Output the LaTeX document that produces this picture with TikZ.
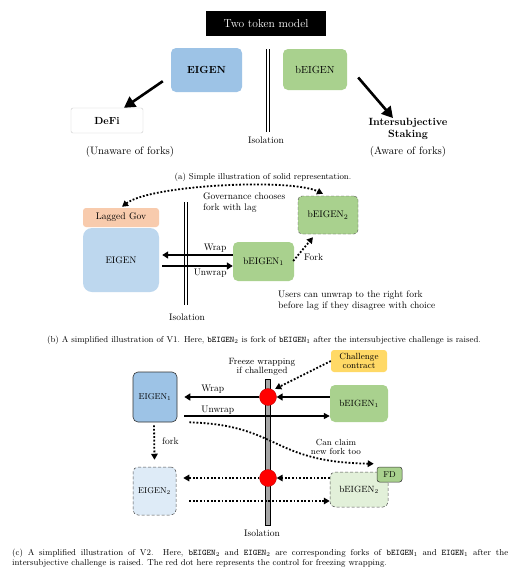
\documentclass[tikz,border=0pt]{standalone}
\usetikzlibrary{arrows.meta,calc}
\definecolor{eblue}{HTML}{9DC3E6}
\definecolor{elight}{HTML}{BDD7EE}
\definecolor{epale}{HTML}{DEEBF7}
\definecolor{bgreen}{HTML}{A9D18E}
\definecolor{bpale}{HTML}{E2F0D9}
\definecolor{peach}{HTML}{F8CBAD}
\definecolor{cyell}{HTML}{FFD966}
\begin{document}
\begin{tikzpicture}[x=1pt,y=-1pt,
  fs/.style={font=\fontsize{#1}{\dimexpr #1pt*115/100\relax}\selectfont},
  box/.style={rounded corners=5pt, inner sep=0pt, align=center},
  bigarrow/.style={line width=2.6pt, -{Triangle[length=11pt,width=12pt]}},
  wraparrow/.style={line width=2pt, -{Triangle[length=6pt,width=7pt]}},
  dotarrow/.style={line width=1.8pt, dash pattern=on 1.8pt off 1.8pt, -{Triangle[length=6pt,width=6.5pt]}},
  isoline/.style={line width=0.9pt},
  lbl/.style={fs=9.5, inner sep=0pt, align=center},
  captxt/.style={fs=8.6, inner sep=0pt}
]
\useasboundingbox (0,0) rectangle (525,574);
\fill[white] (0,0) rectangle (525,574);

% ---------------- panel (a)
\node[fill=black, text=white, minimum width=120pt, minimum height=25pt, fs=11.5, inner sep=0pt] (title) at (266,23.5) {Two token model};
\node[box, fill=eblue, minimum width=71pt, minimum height=44pt, fs=10.3] (eigenA) at (206.5,70) {\textbf{EIGEN}};
\node[box, fill=bgreen, minimum width=64pt, minimum height=41pt, fs=10.3] (beigenA) at (315,69.5) {bEIGEN};
\node[box, draw=black!20, rounded corners=2pt, minimum width=72pt, minimum height=25pt, fs=10.3] (defi) at (107,120.5) {\textbf{DeFi}};
\node[lbl, fs=10.5] (staking) at (408,129) {\textbf{Intersubjective}\\\textbf{Staking}};
\node[lbl, fs=10.8] (aware) at (408,152) {(Aware of forks)};
\node[lbl, fs=10.8] (unaware) at (130,152) {(Unaware of forks)};
\coordinate (isoAtop) at (267.5,49);
\coordinate (isoAbot) at (267.5,132);
\draw[isoline] ($(isoAtop)+(-1.5,0)$) -- ($(isoAbot)+(-1.5,0)$);
\draw[isoline] ($(isoAtop)+(1.5,0)$) -- ($(isoAbot)+(1.5,0)$);
\node[lbl] (isoA) at (266,140) {Isolation};
\draw[bigarrow] ($(eigenA.south west)+(-8,-11)$) -- ($(defi.north)+(17,0)$);
\draw[bigarrow] ($(beigenA.east)+(11,8)$) -- ($(staking.north)+(-15,0)$);
\node[captxt] (capA) at (263,177) {(a) Simple illustration of solid representation.};

% ---------------- panel (b)
\node[box, fill=peach, rounded corners=3pt, minimum width=76pt, minimum height=19pt, fs=9.6] (lagged) at (121,217.5) {Lagged Gov};
\node[box, fill=elight, rounded corners=9pt, minimum width=76pt, minimum height=64pt, fs=9.5] (eigenB) at (121,260) {EIGEN};
\coordinate (isoBtop) at (185.5,202);
\coordinate (isoBbot) at (185.5,305);
\draw[isoline] ($(isoBtop)+(-1.5,0)$) -- ($(isoBbot)+(-1.5,0)$);
\draw[isoline] ($(isoBtop)+(1.5,0)$) -- ($(isoBbot)+(1.5,0)$);
\node[lbl] (isoB) at (187,317) {Isolation};
\node[lbl, anchor=north west, align=left] (gov) at (203,192.5) {Governance chooses\\fork with lag};
\node[box, fill=bgreen, draw=black!70, densely dashed, rounded corners=4pt, minimum width=60pt, minimum height=38pt, fs=9.5] (beigen2B) at (328,215) {bEIGEN$_2$};
\node[box, fill=bgreen, minimum width=61pt, minimum height=39pt, fs=9.5] (beigen1B) at (263.5,261.5) {bEIGEN$_1$};
\draw[dotarrow, {Triangle[length=6pt,width=6.5pt]}-{Triangle[length=6pt,width=6.5pt]}]
  ($(lagged.north)+(1,-1)$) .. controls (150,185) and (290,178) .. ($(beigen2B.north)+(-5,-2)$);
\draw[wraparrow] ($(beigen1B.west)+(0,-6.5)$) -- ($(eigenB.east)+(3,-5)$) node[pos=0.25, above=1.5pt, lbl]{Wrap};
\draw[wraparrow] ($(eigenB.east)+(3,6)$) -- ($(beigen1B.west)+(0,4.5)$) node[pos=0.68, below=2pt, lbl]{Unwrap};
\draw[dotarrow] ($(beigen1B.east)+(-1,-0.5)$) -- ($(beigen2B.south)+(-15,3)$);
\node[lbl, anchor=west] (forkB) at (304,257) {Fork};
\node[lbl, anchor=north west, align=left] (users) at (278,291) {Users can unwrap to the right fork\\before lag if they disagree with choice};
\node[captxt] (capB) at (264,340) {(b) A simplified illustration of V1. Here, \texttt{bEIGEN}$_2$ is fork of \texttt{bEIGEN}$_1$ after the intersubjective challenge is raised.};

% ---------------- panel (c)
\node[box, fill=cyell, rounded corners=3pt, minimum width=56pt, minimum height=22pt, fs=8.9, align=center] (chal) at (359,361) {Challenge\\[-2pt]contract};
\node[lbl, fs=9.1] (freeze) at (262,367) {Freeze wrapping\\[-2pt]if challenged};
\draw[fill=black!35, line width=0.8pt] (265.5,379) rectangle (270.5,525);
\node[circle, fill=red, draw=red!70!black, line width=0.3pt, minimum size=17pt, inner sep=0pt] (dot1) at (268,397) {};
\node[circle, fill=red, draw=red!70!black, line width=0.3pt, minimum size=17pt, inner sep=0pt] (dot2) at (268,478) {};
\node[box, fill=eblue, draw=black!80, line width=0.6pt, minimum width=44pt, minimum height=50pt, fs=8.5] (eigen1C) at (155,397) {EIGEN$_1$};
\node[box, fill=bgreen, minimum width=58pt, minimum height=37pt, fs=9] (beigen1C) at (359,403.5) {bEIGEN$_1$};
\node[box, fill=epale, draw=black!70, densely dashed, line width=0.5pt, minimum width=43pt, minimum height=48pt, fs=8.5] (eigen2C) at (154.5,491) {EIGEN$_2$};
\node[box, fill=bpale, draw=black!70, densely dashed, line width=0.5pt, minimum width=58pt, minimum height=35pt, fs=9] (beigen2C) at (359,489.5) {bEIGEN$_2$};
\node[box, fill=bgreen, draw=black!80, line width=0.5pt, rounded corners=2.5pt, minimum width=25pt, minimum height=15pt, fs=8.5] (fd) at (389.5,474.5) {FD};
% wrap
\draw[wraparrow] ($(beigen1C.west)+(0,-6.5)$) -- (dot1.east);
\draw[wraparrow] (dot1.west) -- ($(eigen1C.east)+(7,0)$) node[pos=0.62, above=3pt, lbl]{Wrap};
\draw[line width=1.4pt, -{Triangle[length=6pt,width=6pt]}] ($(eigen1C.east)+(7,19)$) -- ($(beigen1C.west)+(0,12.5)$) node[pos=0.23, above=0.5pt, lbl]{Unwrap};
\draw[dotarrow] (chal.west) -- ($(dot1.north east)+(1,-2)$);
\draw[dotarrow] ($(eigen1C.south)+(-1,3)$) -- ($(eigen2C.north)+(0,-7)$);
\node[lbl, anchor=west] (forkC) at (162,441) {fork};
\draw[dotarrow] ($(beigen2C.west)+(0,-11.5)$) -- (dot2.east);
\draw[dotarrow] (dot2.west) -- ($(eigen2C.east)+(7,-13)$);
\draw[dotarrow] ($(eigen2C.east)+(13,10)$) -- ($(beigen2C.west)+(0,11.5)$);
\draw[dotarrow] ($(eigen1C.south east)+(12,0)$) .. controls (280,425) and (270,462) .. ($(fd.north west)+(-3,-3)$);
\node[lbl, fs=8.8] (claim) at (336,447) {Can claim\\[-2pt]new fork too};
\node[lbl] (isoC) at (262,533) {Isolation};
\node[captxt, anchor=north west, text width=496pt, align=justify] (capC) at (12,549) {(c) A simplified illustration of V2. Here, \texttt{bEIGEN}$_2$ and \texttt{EIGEN}$_2$ are corresponding forks of \texttt{bEIGEN}$_1$ and \texttt{EIGEN}$_1$ after the\linebreak intersubjective challenge is raised. The red dot here represents the control for freezing wrapping.};
\end{tikzpicture}
\end{document}
